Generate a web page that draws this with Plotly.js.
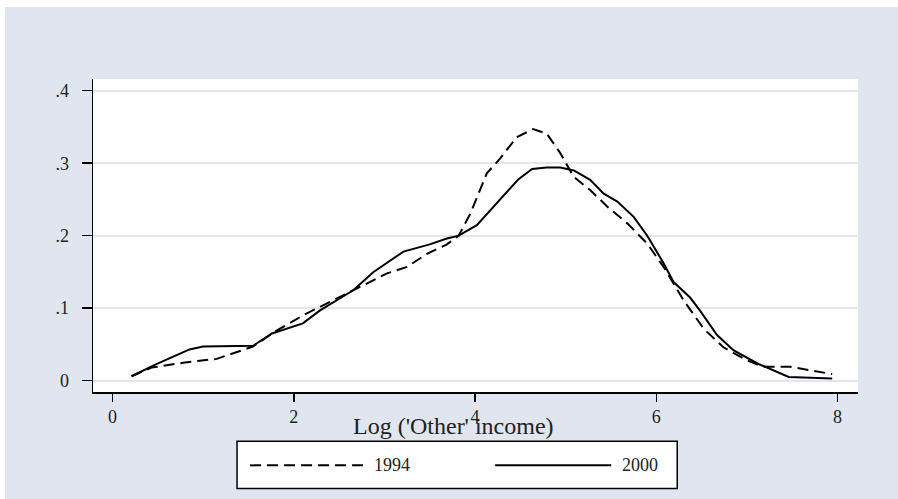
<!DOCTYPE html>
<html>
<head>
<meta charset="utf-8">
<script src="https://cdn.plot.ly/plotly-3.0.1.min.js"></script>
<style>
  html, body { margin: 0; padding: 0; background: #ffffff; width: 898px; height: 499px; overflow: hidden; }
  #chart { position: absolute; left: 5px; top: 7px; width: 893px; height: 492px; }
</style>
</head>
<body>
<div id="chart"></div>
<script>
// Data
const x1994 = [0.21, 0.43, 0.80, 1.15, 1.55, 1.81, 2.10, 2.36, 2.70, 2.84, 3.03, 3.25, 3.47, 3.69, 3.82, 3.95, 4.13, 4.28, 4.46, 4.64, 4.79, 4.94, 5.09, 5.27, 5.46, 5.68, 5.90, 6.08, 6.30, 6.52, 6.74, 7.00, 7.18, 7.48, 7.94];
const y1994 = [0.006, 0.018, 0.025, 0.030, 0.047, 0.069, 0.090, 0.106, 0.127, 0.136, 0.148, 0.157, 0.175, 0.188, 0.200, 0.231, 0.286, 0.307, 0.336, 0.347, 0.341, 0.314, 0.281, 0.263, 0.240, 0.217, 0.189, 0.157, 0.111, 0.072, 0.046, 0.028, 0.019, 0.019, 0.009];

const x2000 = [0.21, 0.49, 0.85, 1.00, 1.55, 1.76, 2.10, 2.29, 2.66, 2.88, 3.21, 3.50, 3.69, 3.82, 4.02, 4.31, 4.48, 4.63, 4.79, 4.94, 5.09, 5.27, 5.42, 5.57, 5.75, 5.90, 6.08, 6.19, 6.37, 6.48, 6.67, 6.85, 7.11, 7.46, 7.94];
const y2000 = [0.006, 0.023, 0.043, 0.047, 0.048, 0.065, 0.079, 0.097, 0.125, 0.150, 0.178, 0.188, 0.196, 0.200, 0.2145, 0.254, 0.278, 0.292, 0.294, 0.294, 0.290, 0.277, 0.258, 0.247, 0.226, 0.200, 0.162, 0.136, 0.115, 0.097, 0.063, 0.042, 0.024, 0.005, 0.003];

const seriesNames = ["1994", "2000"];
const xTickVals = [0, 2, 4, 6, 8];
const xTickText = ["0", "2", "4", "6", "8"];
const yTickVals = [0, 0.1, 0.2, 0.3, 0.4];
const yTickText = ["0", ".1", ".2", ".3", ".4"];
const xTitle = "Log ('Other' income)";

const FONT = "Liberation Serif, Times New Roman, serif";
const BG = "#e1e5f0";
const GRID = "#e1e5f0";
const TXT = "#222222";

const traces = [
  { x: x1994, y: y1994, name: seriesNames[0], type: "scatter", mode: "lines",
    line: { color: "#000000", width: 2, dash: "11px,6px" }, showlegend: false, hoverinfo: "skip" },
  { x: x2000, y: y2000, name: seriesNames[1], type: "scatter", mode: "lines",
    line: { color: "#000000", width: 2 }, showlegend: false, hoverinfo: "skip" }
];

const legY = -0.2344;
const layout = {
  width: 893, height: 492,
  margin: { l: 88, r: 40.3, t: 72, b: 107.3 },
  paper_bgcolor: BG,
  plot_bgcolor: "#ffffff",
  font: { family: FONT, color: TXT, size: 18 },
  showlegend: false,
  xaxis: {
    range: [-0.215, 8.225],
    tickvals: xTickVals, ticktext: xTickText,
    ticks: "outside", ticklen: 8, tickwidth: 1.5, tickcolor: "#000000",
    showline: true, linecolor: "#000000", linewidth: 1.5,
    showgrid: false, zeroline: false,
    tickfont: { family: FONT, size: 18, color: TXT },
    ticklabelstandoff: 0
  },
  yaxis: {
    range: [-0.0157, 0.4162],
    tickvals: yTickVals, ticktext: yTickText,
    ticks: "outside", ticklen: 10, tickwidth: 1.5, tickcolor: "#000000",
    showline: true, linecolor: "#000000", linewidth: 1.5,
    showgrid: true, gridcolor: GRID, gridwidth: 2,
    zeroline: false,
    tickfont: { family: FONT, size: 18, color: TXT },
    ticklabelstandoff: 9
  },
  shapes: [
    { type: "rect", xref: "paper", yref: "paper", x0: 0.1883, x1: 0.7637, y0: -0.1577, y1: -0.308,
      line: { color: "#000000", width: 1.5 }, fillcolor: "#ffffff", layer: "above" },
    { type: "line", xref: "paper", yref: "paper", x0: 0.2053, x1: 0.3557, y0: legY, y1: legY,
      line: { color: "#000000", width: 2, dash: "11px,6px" } },
    { type: "line", xref: "paper", yref: "paper", x0: 0.5257, x1: 0.6774, y0: legY, y1: legY,
      line: { color: "#000000", width: 2 } }
  ],
  annotations: [
    { text: xTitle, xref: "paper", yref: "paper", x: 0.4708, y: -0.108, showarrow: false,
      xanchor: "center", yanchor: "middle", font: { family: FONT, size: 24, color: TXT } },
    { text: seriesNames[0], xref: "paper", yref: "paper", x: 0.3649, y: legY, showarrow: false,
      xanchor: "left", yanchor: "middle", font: { family: FONT, size: 18, color: TXT } },
    { text: seriesNames[1], xref: "paper", yref: "paper", x: 0.6891, y: legY, showarrow: false,
      xanchor: "left", yanchor: "middle", font: { family: FONT, size: 18, color: TXT } }
  ]
};

Plotly.newPlot("chart", traces, layout, { displayModeBar: false, staticPlot: true });
</script>
</body>
</html>
